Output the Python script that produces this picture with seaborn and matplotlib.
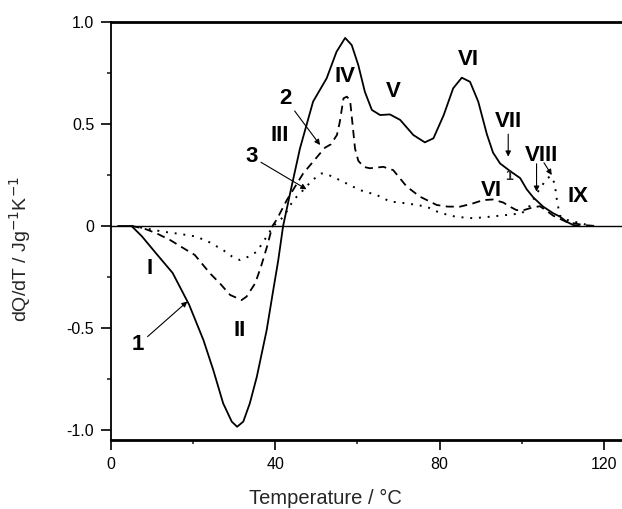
import pandas as pd
import matplotlib
matplotlib.use("Agg")
import matplotlib.pyplot as plt
import seaborn as sns
from matplotlib.ticker import MultipleLocator

# curva 1 (continua)
temp1 = [1.7, 5.0, 7.5, 10.8, 15.0, 19.0, 22.5, 24.9, 27.3, 29.4, 30.7, 32.2, 33.8, 35.5,
         37.9, 39.5, 40.7, 41.9, 43.6, 46.0, 49.2, 52.5, 54.9, 57.0, 58.6, 60.2, 61.8,
         63.5, 65.5, 67.9, 70.4, 73.6, 76.4, 78.5, 81.0, 83.3, 85.4, 87.4, 89.4, 91.5,
         93.0, 94.7, 97.1, 99.6, 101.2, 102.8, 105.2, 107.7, 109.3, 110.9, 112.5, 114.0]
dq1 = [0.0, 0.0, -0.05, -0.13, -0.23, -0.385, -0.559, -0.706, -0.869, -0.959, -0.984,
       -0.959, -0.869, -0.739, -0.51, -0.314, -0.17, 0.0, 0.16, 0.38, 0.61, 0.724, 0.854,
       0.922, 0.887, 0.789, 0.658, 0.569, 0.544, 0.547, 0.52, 0.446, 0.41, 0.43, 0.544,
       0.675, 0.727, 0.707, 0.61, 0.45, 0.36, 0.307, 0.27, 0.235, 0.18, 0.14, 0.095,
       0.062, 0.046, 0.021, 0.005, 0.0]

# curva 2 (discontinua)
temp2 = [5.0, 8.0, 11.1, 14.5, 18.4, 20.4, 24.1, 26.5, 29.0, 31.8, 33.0, 35.1, 36.5, 38.0,
         39.3, 40.3, 42.8, 46.8, 50.9, 52.1, 53.5, 55.0, 55.7, 56.6, 57.4, 58.2, 59.0,
         59.4, 60.2, 61.5, 63.0, 66.3, 68.7, 72.0, 75.2, 77.7, 79.3, 82.0, 85.0, 88.0,
         90.6, 93.0, 95.5, 97.1, 98.7, 100.5, 102.5, 104.4, 106.0, 107.7, 110.9, 114.9,
         118.0]
dq2 = [0.0, -0.012, -0.036, -0.07, -0.118, -0.142, -0.232, -0.281, -0.338, -0.363, -0.346,
       -0.281, -0.2, -0.1, 0.0, 0.03, 0.127, 0.258, 0.356, 0.384, 0.40, 0.446, 0.51, 0.626,
       0.634, 0.617, 0.46, 0.38, 0.32, 0.29, 0.283, 0.29, 0.274, 0.193, 0.144, 0.119,
       0.103, 0.095, 0.095, 0.11, 0.127, 0.13, 0.115, 0.095, 0.078, 0.078, 0.09, 0.097,
       0.075, 0.05, 0.02, 0.005, 0.0]

# curva 3 (punteada)
temp3 = [5.0, 8.0, 12.7, 16.5, 20.8, 24.0, 27.3, 29.5, 31.4, 33.5, 35.5, 37.9, 39.5, 42.0,
         44.4, 46.8, 49.0, 51.3, 53.0, 55.7, 60.6, 64.7, 67.9, 72.0, 76.8, 80.0, 84.0,
         88.2, 92.0, 96.3, 100.0, 102.0, 104.0, 106.0, 107.0, 108.0, 108.6, 109.3, 111.0,
         114.0, 117.0]
dq3 = [0.0, -0.01, -0.028, -0.038, -0.052, -0.08, -0.118, -0.15, -0.167, -0.15, -0.126,
       -0.052, 0.0, 0.045, 0.127, 0.176, 0.225, 0.258, 0.25, 0.225, 0.176, 0.152, 0.12,
       0.111, 0.095, 0.065, 0.045, 0.038, 0.045, 0.054, 0.062, 0.1, 0.17, 0.23, 0.245,
       0.21, 0.12, 0.05, 0.03, 0.015, 0.0]

# etiquetas de picos: texto, T, dQ/dT
peak_labels = ["I", "II", "III", "IV", "V", "VI", "VII", "VIII", "IX", "VI"]
peak_t = [9.5, 31.4, 41.1, 57.0, 68.7, 87.0, 96.7, 104.8, 113.8, 92.6]
peak_v = [-0.207, -0.51, 0.446, 0.732, 0.658, 0.814, 0.511, 0.348, 0.144, 0.176]

sns.set_style("ticks")
plt.rcParams["font.family"] = ["Liberation Sans", "DejaVu Sans"]

fig = plt.figure(figsize=(6.22, 5.09), dpi=100)
ax = fig.add_axes([111 / 622, 69 / 509, 511 / 622, 418 / 509])

ax.axhline(0, color="black", lw=1.0, zorder=1)

df1 = pd.DataFrame({"T": temp1, "dq": dq1})
df2 = pd.DataFrame({"T": temp2, "dq": dq2})
df3 = pd.DataFrame({"T": temp3, "dq": dq3})
sns.lineplot(data=df1, x="T", y="dq", ax=ax, color="black", lw=1.3, sort=False)
sns.lineplot(data=df2, x="T", y="dq", ax=ax, color="black", lw=1.3, sort=False,
             linestyle=(0, (4.5, 3)))
sns.lineplot(data=df3, x="T", y="dq", ax=ax, color="black", lw=1.4, sort=False,
             linestyle=(0, (1, 3.5)))

ax.set_xlim(0, 124.4)
ax.set_ylim(-1.049, 1.0)
ax.xaxis.set_minor_locator(MultipleLocator(20))
ax.yaxis.set_minor_locator(MultipleLocator(0.25))
ax.set_xticks([0, 40, 80, 120])
ax.set_xticklabels(["0", "40", "80", "120"])
ax.set_yticks([-1.0, -0.5, 0, 0.5, 1.0])
ax.set_yticklabels(["-1.0", "-0.5", "0", "0.5", "1.0"])
ax.tick_params(which="major", direction="out", length=7, width=1.2, labelsize=11.5,
               pad=5, colors="black")
ax.tick_params(which="minor", direction="out", length=3, width=1.2)

for side in ["left", "top", "bottom"]:
    ax.spines[side].set_color("black")
ax.spines["left"].set_linewidth(1.3)
ax.spines["top"].set_linewidth(2.0)
ax.spines["bottom"].set_linewidth(2.0)
ax.spines["right"].set_visible(False)

ax.set_xlabel("Temperature / °C", fontsize=14.5)
ax.xaxis.set_label_coords(0.419, -0.118)
ax.set_ylabel("dQ/dT / Jg$^{-1}$K$^{-1}$", fontsize=14)
ax.yaxis.set_label_coords(-0.152, 0.457)

bold = dict(fontsize=16, fontweight="bold", ha="center", va="center", color="black")
for lab, t, v in zip(peak_labels, peak_t, peak_v):
    ax.text(t, v, lab, **bold)
ax.text(96.9, 0.245, "1", fontsize=10, fontweight="bold", ha="center", va="center")

arrow = dict(arrowstyle="-|>", color="black", lw=0.8, mutation_scale=8, shrinkA=0,
             shrinkB=0)
ax.annotate("1", xy=(18.6, -0.37), xytext=(6.6, -0.583), arrowprops=arrow, **bold)
ax.annotate("2", xy=(50.9, 0.397), xytext=(42.4, 0.626), arrowprops=arrow, **bold)
ax.annotate("3", xy=(47.6, 0.18), xytext=(34.2, 0.34), arrowprops=arrow, **bold)
ax.annotate("", xy=(96.7, 0.34), xytext=(96.7, 0.45), arrowprops=arrow)
ax.annotate("", xy=(103.6, 0.168), xytext=(103.6, 0.305), arrowprops=arrow)
ax.annotate("", xy=(107.3, 0.25), xytext=(105.4, 0.31), arrowprops=arrow)

fig.savefig("out.png", dpi=100)
